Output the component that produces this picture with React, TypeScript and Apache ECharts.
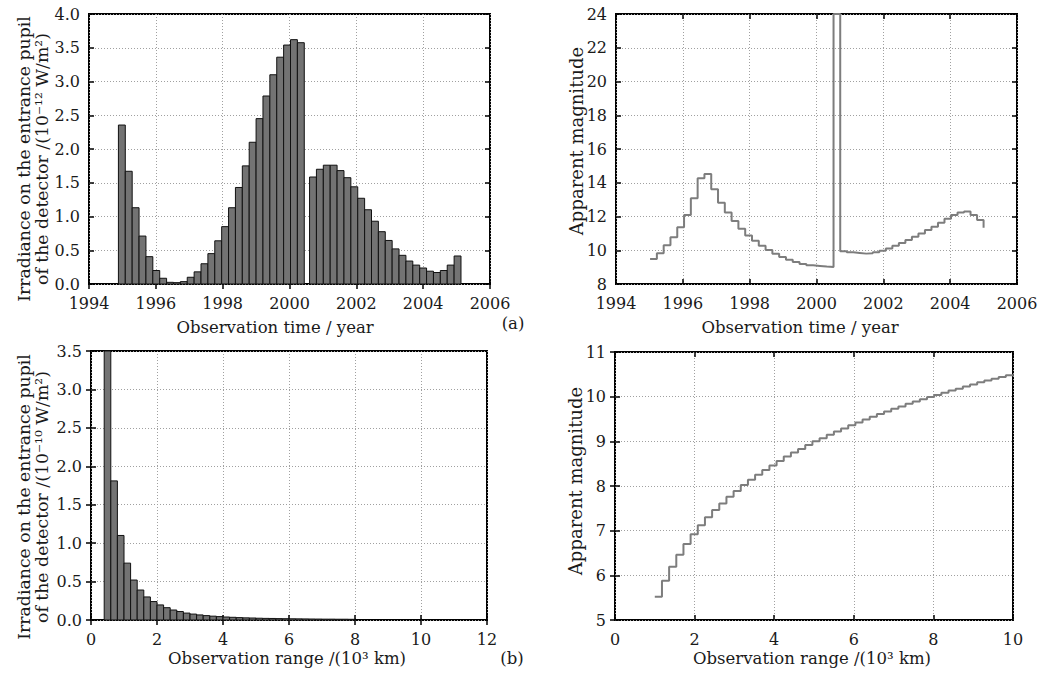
import React, { useEffect, useRef } from "react";
import * as echarts from "echarts";

const FONT = "DejaVu Serif";

// ---------- (a) top-left: irradiance histogram (10^-12 W/m^2) ----------
const aBinWidth = 0.206;
const aGroup1Start = 1994.88;
const aGroup1Irr = [2.355, 1.67, 1.13, 0.71, 0.405, 0.2, 0.085, 0.025, 0.02, 0.035, 0.1, 0.18, 0.3, 0.45, 0.64, 0.85, 1.13, 1.43, 1.75, 2.1, 2.45, 2.785, 3.1, 3.36, 3.54, 3.62, 3.575];
const aGroup2Start = 2000.6;
const aGroup2Irr = [1.585, 1.7, 1.76, 1.76, 1.68, 1.575, 1.44, 1.27, 1.1, 0.93, 0.775, 0.645, 0.52, 0.425, 0.34, 0.28, 0.237, 0.19, 0.17, 0.2, 0.28, 0.415];

// ---------- (a) top-right: apparent magnitude (stairs) ----------
const aMagStartA = 1995.02;
const aMagStepA = 0.2033;
const aMagA = [9.48, 9.82, 10.29, 10.77, 11.36, 12.09, 13.08, 14.26, 14.52, 13.61, 12.82, 12.23, 11.73, 11.28, 10.88, 10.57, 10.27, 10.01, 9.8, 9.6, 9.44, 9.3, 9.19, 9.11, 9.07, 9.03, 9.01];
const aMagSpikeYear = 2000.51;
const aMagSpikeValue = 24;
const aMagStartB = 2000.71;
const aMagStepB = 0.195;
const aMagB = [9.94, 9.88, 9.84, 9.8, 9.82, 9.88, 9.97, 10.11, 10.27, 10.43, 10.61, 10.8, 11.0, 11.2, 11.4, 11.63, 11.87, 12.09, 12.23, 12.29, 12.09, 11.79];
const aMagEndValue = 11.34;

// ---------- (b) bottom-left: irradiance histogram (10^-10 W/m^2) ----------
const bBinStart = 0.4;
const bBinWidth = 0.2;
const bIrr = [3.55, 1.81, 1.1, 0.74, 0.52, 0.39, 0.3, 0.24, 0.196, 0.16, 0.13, 0.11, 0.09, 0.077, 0.066, 0.057, 0.05, 0.044, 0.039, 0.035, 0.031, 0.028, 0.026, 0.023, 0.021, 0.02, 0.018, 0.017, 0.016, 0.015, 0.014, 0.013, 0.012, 0.011, 0.011, 0.01, 0.01, 0.009];

// ---------- (b) bottom-right: apparent magnitude (stairs) ----------
const bMagStart = 1.0;
const bMagStep = 0.18;
const bMag = [5.52, 5.88, 6.19, 6.46, 6.7, 6.92, 7.12, 7.3, 7.46, 7.61, 7.76, 7.89, 8.02, 8.14, 8.25, 8.36, 8.46, 8.56, 8.66, 8.75, 8.83, 8.92, 9.0, 9.07, 9.15, 9.22, 9.29, 9.36, 9.42, 9.49, 9.55, 9.61, 9.67, 9.73, 9.78, 9.84, 9.89, 9.94, 9.99, 10.04, 10.09, 10.14, 10.18, 10.23, 10.27, 10.32, 10.36, 10.4, 10.44, 10.48];
const bMagEndValue = 10.5;

// ---------- texts ----------
const yTitleIrrA = "Irradiance on the entrance pupil\nof the detector /(10⁻¹² W/m²)";
const yTitleIrrB = "Irradiance on the entrance pupil\nof the detector /(10⁻¹⁰ W/m²)";
const yTitleMag = "Apparent magnitude";
const xTitleTime = "Observation time / year";
const xTitleRange = "Observation range /(10³ km)";

function histData(start: number, width: number, vals: number[]) {
  return vals.map((v, i) => [start + i * width, start + (i + 1) * width, v]);
}
function stairData(start: number, step: number, vals: number[]) {
  return vals.map((v, i) => [start + i * step, v]);
}

const renderBar = (params: any, api: any) => {
  const p0 = api.coord([api.value(0), api.value(2)]);
  const p1 = api.coord([api.value(1), 0]);
  const cs = params.coordSys;
  const shape = echarts.graphic.clipRectByRect(
    { x: p0[0], y: p0[1], width: p1[0] - p0[0], height: p1[1] - p0[1] },
    { x: cs.x, y: cs.y, width: cs.width, height: cs.height }
  );
  if (!shape) return null;
  return {
    type: "rect",
    shape,
    style: { fill: "#737373", stroke: "#111", lineWidth: 1 },
  };
};

const TICK_SIZE = 16;
const tickStyle = { fontFamily: FONT, fontSize: TICK_SIZE, color: "#1a1a1a" };

function mainX(grid: number, min: number, max: number, interval: number) {
  return {
    type: "value",
    gridIndex: grid,
    min,
    max,
    interval,
    position: "bottom",
    axisLine: { show: false },
    axisTick: { show: true, inside: true, length: 5, lineStyle: { color: "#000", width: 1.5 } },
    axisLabel: {
      show: true,
      ...tickStyle,
      margin: 11,
      formatter: (v: number) => String(v),
    },
    splitLine: { show: true, lineStyle: { type: [1, 2], color: "#a0a0a0", width: 1 } },
  };
}
function mainY(grid: number, min: number, max: number, interval: number, dec: number) {
  return {
    type: "value",
    gridIndex: grid,
    min,
    max,
    interval,
    position: "left",
    axisLine: { show: false },
    axisTick: { show: true, inside: true, length: 5, lineStyle: { color: "#000", width: 1.5 } },
    axisLabel: {
      show: true,
      ...tickStyle,
      margin: 9,
      formatter: (v: number) => v.toFixed(dec),
    },
    splitLine: { show: true, lineStyle: { type: [1, 2], color: "#a0a0a0", width: 1 } },
  };
}
function sideX(grid: number, min: number, max: number, interval: number) {
  return {
    type: "value",
    gridIndex: grid,
    min,
    max,
    interval,
    position: "top",
    axisLine: { show: false },
    axisTick: { show: true, inside: true, length: 5, lineStyle: { color: "#000", width: 1.5 } },
    axisLabel: { show: false },
    splitLine: { show: false },
  };
}
function sideY(grid: number, min: number, max: number, interval: number) {
  return {
    type: "value",
    gridIndex: grid,
    min,
    max,
    interval,
    position: "right",
    axisLine: { show: false },
    axisTick: { show: true, inside: true, length: 5, lineStyle: { color: "#000", width: 1.5 } },
    axisLabel: { show: false },
    splitLine: { show: false },
  };
}

function txt(x: number, y: number, text: string, size: number, rotate = false) {
  return {
    type: "text",
    x,
    y,
    rotation: rotate ? Math.PI / 2 : 0,
    style: {
      text,
      fontFamily: FONT,
      fontSize: size,
      fill: "#1a1a1a",
      align: "center",
      verticalAlign: "middle",
      lineHeight: size + 1,
    },
  };
}

export default function App() {
  const ref = useRef<HTMLDivElement>(null);
  useEffect(() => {
    if (!ref.current) return;
    const chart = echarts.init(ref.current, null, { renderer: "svg" });

    const aMagData = [
      ...stairData(aMagStartA, aMagStepA, aMagA),
      [aMagSpikeYear, aMagSpikeValue],
      ...stairData(aMagStartB, aMagStepB, aMagB),
      [aMagStartB + aMagStepB * aMagB.length, aMagEndValue],
    ];
    const bMagData = [
      ...stairData(bMagStart, bMagStep, bMag),
      [bMagStart + bMagStep * bMag.length, bMagEndValue],
    ];

    const gridStyle = { show: true, borderColor: "#000", borderWidth: 2, backgroundColor: "#fff" };

    chart.setOption({
      animation: false,
      backgroundColor: "#fff",
      textStyle: { fontFamily: FONT, fontSize: TICK_SIZE, color: "#1a1a1a" },
      grid: [
        { left: 89, top: 14, width: 401, height: 270, ...gridStyle },
        { left: 616, top: 14, width: 401, height: 270, ...gridStyle },
        { left: 91, top: 351, width: 396, height: 269, ...gridStyle },
        { left: 615, top: 352, width: 398, height: 268, ...gridStyle },
      ],
      xAxis: [
        mainX(0, 1994, 2006, 2),
        mainX(1, 1994, 2006, 2),
        mainX(2, 0, 12, 2),
        mainX(3, 0, 10, 2),
        sideX(0, 1994, 2006, 2),
        sideX(1, 1994, 2006, 2),
        sideX(2, 0, 12, 2),
        sideX(3, 0, 10, 2),
      ],
      yAxis: [
        mainY(0, 0, 4, 0.5, 1),
        mainY(1, 8, 24, 2, 0),
        mainY(2, 0, 3.5, 0.5, 1),
        mainY(3, 5, 11, 1, 0),
        sideY(0, 0, 4, 0.5),
        sideY(1, 8, 24, 2),
        sideY(2, 0, 3.5, 0.5),
        sideY(3, 5, 11, 1),
      ],
      series: [
        {
          type: "custom",
          xAxisIndex: 0,
          yAxisIndex: 0,
          renderItem: renderBar,
          encode: { x: [0, 1], y: 2 },
          data: [...histData(aGroup1Start, aBinWidth, aGroup1Irr), ...histData(aGroup2Start, aBinWidth, aGroup2Irr)],
          silent: true,
        },
        {
          type: "line",
          xAxisIndex: 1,
          yAxisIndex: 1,
          step: "end",
          showSymbol: false,
          symbol: "none",
          clip: false,
          lineStyle: { color: "#7d7d7d", width: 2 },
          data: aMagData,
          silent: true,
        },
        {
          type: "custom",
          xAxisIndex: 2,
          yAxisIndex: 2,
          renderItem: renderBar,
          encode: { x: [0, 1], y: 2 },
          data: histData(bBinStart, bBinWidth, bIrr),
          silent: true,
        },
        {
          type: "line",
          xAxisIndex: 3,
          yAxisIndex: 3,
          step: "end",
          showSymbol: false,
          symbol: "none",
          lineStyle: { color: "#7d7d7d", width: 2 },
          data: bMagData,
          silent: true,
        },
      ],
      graphic: [
        txt(33, 159, yTitleIrrA, 17.3, true),
        txt(33, 497, yTitleIrrB, 17.3, true),
        txt(576, 141, yTitleMag, 18, true),
        txt(575, 481, yTitleMag, 18, true),
        txt(275, 327, xTitleTime, 16.5),
        txt(800, 327, xTitleTime, 16.5),
        txt(287, 658, xTitleRange, 16.5),
        txt(812, 658, xTitleRange, 16.5),
        txt(513, 323, "(a)", 16.5),
        txt(512, 658, "(b)", 16.5),
      ],
    });
    return () => chart.dispose();
  }, []);
  return (
    <div
      ref={ref}
      style={{ position: "fixed", left: 0, top: 0, width: 1042, height: 675, background: "#fff" }}
    />
  );
}
